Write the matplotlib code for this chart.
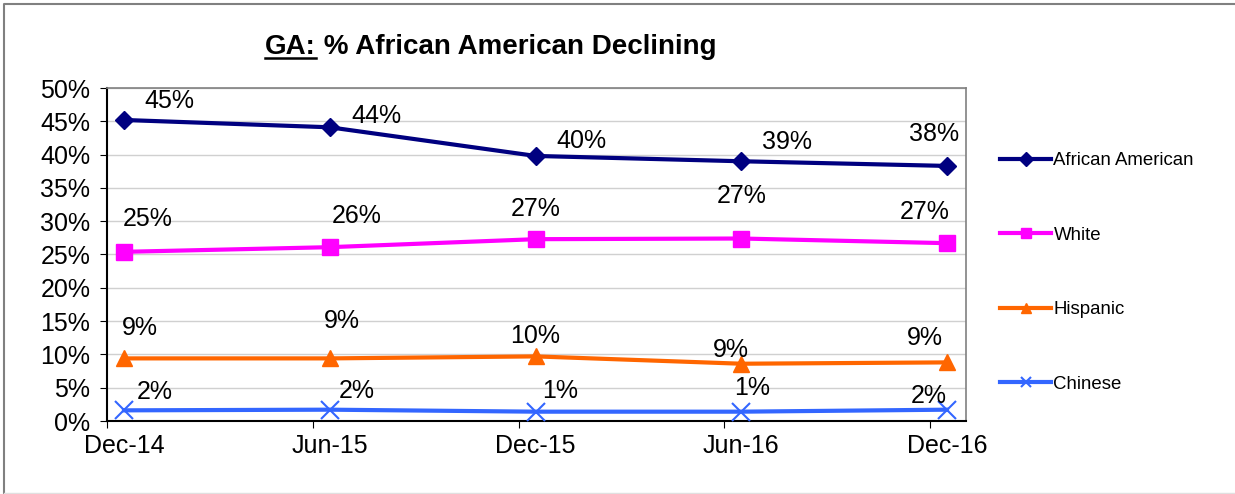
import numpy as np
import matplotlib
matplotlib.use("Agg")
import matplotlib.pyplot as plt
from matplotlib.lines import Line2D

plt.rcParams['font.family'] = ['Liberation Sans', 'DejaVu Sans']

# data
periods = ["Dec-14", "Jun-15", "Dec-15", "Jun-16", "Dec-16"]
african_american = [45.2, 44.1, 39.8, 39.0, 38.3]
white = [25.4, 26.1, 27.3, 27.4, 26.7]
hispanic = [9.4, 9.4, 9.7, 8.6, 8.8]
chinese = [1.6, 1.7, 1.4, 1.4, 1.7]

W, H = 1235, 494
fig = plt.figure(figsize=(W / 100, H / 100), dpi=100)
ax = fig.add_axes([107 / W, 1 - 421 / H, (966 - 107) / W, (421 - 88) / H])

x = np.arange(len(periods))
off = 17 / 206  # date axis: points sit half a month after the tick

series = [
    ("African American", african_american, "#000080", "D", 9.5, 1),
    ("White", white, "#FF00FF", "s", 11, 1),
    ("Hispanic", hispanic, "#FF6600", "^", 11, 1),
    ("Chinese", chinese, "#3366FF", "x", 13, 1.5),
]

# label offsets in pixels (dx, dy) per point, as Excel placed them
label_offsets = [
    [(45, 19), (47, 11), (46, 15), (46, 19), (-13, 32)],
    [(24, 33), (27, 31), (0, 30), (0, 43), (-22, 31)],
    [(16, 30), (12, 37), (0, 20), (-10, 14), (-22, 24)],
    [(31, 18), (27, 19), (25, 21), (11, 24), (-18, 14)],
]

FS = 18
for (name, vals, col, mk, ms, mew), offs in zip(series, label_offsets):
    ax.plot(x, vals, color=col, lw=3, marker=mk, ms=ms, mew=mew,
            mec=col, mfc=col, label=name, solid_joinstyle="round", zorder=3)
    for xi, v, (dx, dy) in zip(x, vals, offs):
        ax.annotate(f"{v:.0f}%", (xi, v), xytext=(dx, dy),
                    textcoords="offset pixels", ha="center", va="center",
                    fontsize=FS, color="black", zorder=4)

ax.set_ylim(0, 50)
ax.set_yticks(np.arange(0, 51, 5))
ax.set_yticklabels([f"{t}%" for t in range(0, 51, 5)])
ax.set_xlim(-off, len(periods) - 1 + 19 / 206)
ax.set_xticks(x - off)
ax.set_xticklabels([])
ax.set_xticks(x, minor=True)
ax.set_xticklabels(periods, minor=True)
ax.tick_params(axis="x", which="major", length=5, direction="out", color="black")
ax.tick_params(axis="x", which="minor", length=0, pad=9, labelsize=FS)
ax.tick_params(axis="y", length=5, pad=7, labelsize=FS)
ax.yaxis.grid(True, color="#D0D0D0", lw=1)
ax.set_axisbelow(True)
for s in ["left", "bottom"]:
    ax.spines[s].set_color("black")
    ax.spines[s].set_linewidth(1.5)
for s in ["top", "right"]:
    ax.spines[s].set_color("#808080")
    ax.spines[s].set_linewidth(1.2)

leg = fig.legend(loc="upper left", bbox_to_anchor=(993 / W, 1 - 145 / H),
                 frameon=False, fontsize=13.4, handlelength=2.7,
                 handletextpad=0.15, labelspacing=3.08, borderaxespad=0)
for h in leg.legend_handles:
    h.set_markersize(7)

# title with underlined "GA:"
TS = 20
ty = 1 - 54 / H
t1 = fig.text(265 / W, ty, "GA:", fontsize=TS, fontweight="bold", va="baseline")
fig.canvas.draw()
bb = t1.get_window_extent()
fig.text(bb.x1 / W, ty, " % African American Declining", fontsize=TS,
         fontweight="bold", va="baseline")
uy = 1 - 58 / H
fig.add_artist(Line2D([bb.x0 / W, bb.x1 / W], [uy, uy], color="black", lw=1.8,
                      transform=fig.transFigure))

# outer chart border
fig.add_artist(Line2D([4 / W, 4 / W, 1], [1 - 493 / H, 1 - 4 / H, 1 - 4 / H],
                      color="#808080", lw=1.5, transform=fig.transFigure))
fig.add_artist(Line2D([4 / W, 1], [1 - 493 / H, 1 - 493 / H],
                      color="#E0E0E0", lw=1, transform=fig.transFigure))

fig.savefig("out.png", dpi=100)
